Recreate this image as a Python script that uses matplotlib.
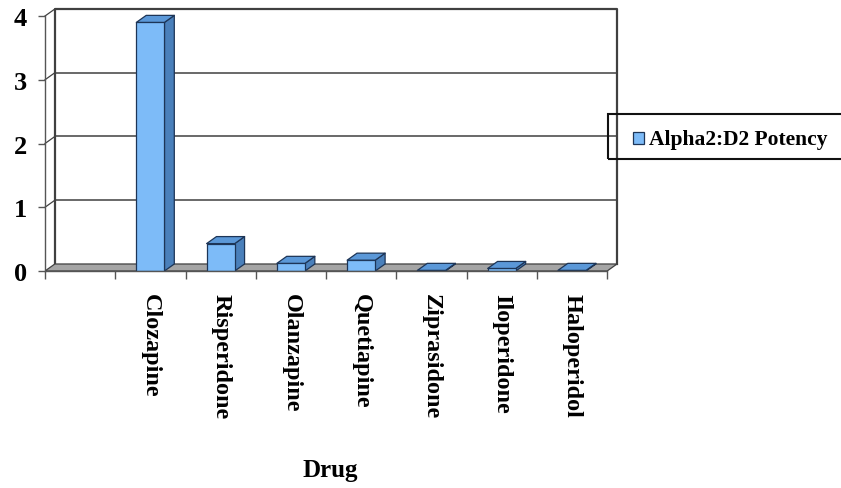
import matplotlib
matplotlib.use("Agg")
import matplotlib.pyplot as plt
from matplotlib.patches import Polygon, Rectangle

# ---- data -------------------------------------------------------------
drugs = ["Clozapine", "Risperidone", "Olanzapine", "Quetiapine",
         "Ziprasidone", "Iloperidone", "Haloperidol"]
potency = [3.9, 0.43, 0.12, 0.17, 0.01, 0.04, 0.01]
series_name = "Alpha2:D2 Potency"
y_ticks = [0, 1, 2, 3, 4]
x_title = "Drug"

# ---- style ------------------------------------------------------------
W, H = 841, 489
FONT = ["Liberation Serif", "DejaVu Serif"]
FRONT = "#7dbbf8"
TOP = "#5b98d8"
SIDE = "#4a80bb"
EDGE = "#1d3557"
FLOOR = "#a5a5a5"
LINE = "#404040"

n_slots = len(drugs) + 1          # first slot is left empty
ddx, ddy = 0.14, 0.11             # oblique depth offset in data units
bar_w = 0.4

fig = plt.figure(figsize=(W / 100, H / 100), dpi=100)
fig.patch.set_facecolor("white")

def px_rect(l, t, r, b):
    return [l / W, 1 - b / H, (r - l) / W, (b - t) / H]

ax = fig.add_axes(px_rect(45, 10, 617, 272))
ax.set_xlim(0, n_slots + ddx)
ax.set_ylim(0, y_ticks[-1] + ddy)
ax.patch.set_visible(False)

# back wall outline and gridlines
top = y_ticks[-1]
ax.plot([ddx, ddx, n_slots + ddx, n_slots + ddx],
        [ddy, top + ddy, top + ddy, ddy], color=LINE, lw=1.6, zorder=1,
        clip_on=False)
for v in y_ticks[1:-1]:
    ax.plot([ddx, n_slots + ddx], [v + ddy, v + ddy], color=LINE, lw=1.1,
            zorder=1)
for v in y_ticks[1:]:
    ax.plot([0, ddx], [v, v + ddy], color=LINE, lw=0.9, zorder=1,
            clip_on=False)

# floor
ax.add_patch(Polygon([(0, 0), (n_slots, 0), (n_slots + ddx, ddy), (ddx, ddy)],
                     closed=True, facecolor=FLOOR, edgecolor=LINE, lw=0.9,
                     zorder=2))

# bars as oblique boxes
for i, v in enumerate(potency):
    c = i + 1.5
    x0, x1 = c - bar_w / 2, c + bar_w / 2
    front = [(x0, 0), (x1, 0), (x1, v), (x0, v)]
    side = [(x1, 0), (x1 + ddx, ddy), (x1 + ddx, v + ddy), (x1, v)]
    cap = [(x0, v), (x1, v), (x1 + ddx, v + ddy), (x0 + ddx, v + ddy)]
    for pts, col in ((side, SIDE), (front, FRONT), (cap, TOP)):
        ax.add_patch(Polygon(pts, closed=True, facecolor=col, edgecolor=EDGE,
                             lw=0.9, joinstyle="round", zorder=3))

# front axes
for s in ("top", "right"):
    ax.spines[s].set_visible(False)
ax.spines["left"].set_bounds(0, top)
ax.spines["bottom"].set_bounds(0, n_slots)
for s in ("left", "bottom"):
    ax.spines[s].set_color("#555555")
    ax.spines[s].set_linewidth(1.0)
    ax.spines[s].set_zorder(4)

ax.set_yticks(y_ticks)
ax.set_yticklabels([str(t) for t in y_ticks])
ax.set_xticks(range(n_slots + 1))
ax.set_xticklabels([])
ax.set_xticks([k + 0.5 for k in range(n_slots)], minor=True)
ax.set_xticklabels([""] + drugs, minor=True)
ax.tick_params(axis="y", direction="out", length=5, width=1.0,
               color="#555555", pad=8)
ax.tick_params(axis="x", which="major", direction="out", length=6, width=1.0,
               color="#555555")
ax.tick_params(axis="x", which="minor", length=0, pad=16)
for lab in ax.get_yticklabels():
    lab.set_fontfamily(FONT)
    lab.set_fontweight("bold")
    lab.set_fontsize(19)
for lab in ax.get_xticklabels(minor=True):
    lab.set_fontfamily(FONT)
    lab.set_fontweight("bold")
    lab.set_fontsize(17.5)
    lab.set_rotation(-90)
    lab.set_va("top")
    lab.set_ha("center")

fig.text(330 / W, 1 - 471 / H, x_title, fontfamily=FONT, fontweight="bold",
         fontsize=18, ha="center", va="center")

# legend box
fig.patches.append(Rectangle((608 / W, 1 - 160 / H), (850 - 608) / W,
                             45 / H, transform=fig.transFigure,
                             facecolor="none", edgecolor="#111111", lw=1.5,
                             clip_on=False))
fig.patches.append(Rectangle((633 / W, 1 - 145 / H), 11 / W, 12 / H,
                             transform=fig.transFigure, facecolor=FRONT,
                             edgecolor=EDGE, lw=0.9))
fig.text(649 / W, 1 - 140 / H, series_name, fontfamily=FONT,
         fontweight="bold", fontsize=15.5, ha="left", va="center")

fig.savefig("out.png", dpi=100, facecolor="white")
